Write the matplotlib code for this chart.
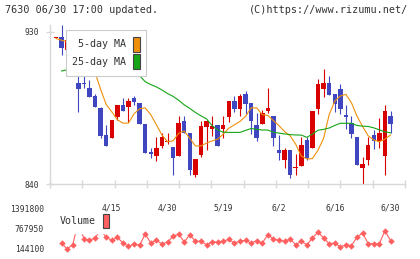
import numpy as np
import matplotlib
matplotlib.use("Agg")
import matplotlib.pyplot as plt
from matplotlib.patches import Patch

plt.rcParams['font.family'] = 'DejaVu Sans Mono'

# daily prices, 61 sessions (red = up, blue = down)
opens = [926.4, 927.0, 919.2, 925.1, 899.9, 899.9, 896.9, 892.0, 884.7, 868.9,
         867.4, 879.8, 886.7, 885.7, 891.0, 887.7, 875.3, 859.1, 856.7, 862.6,
         864.7, 861.9, 856.7, 877.2, 870.3, 845.3, 857.1, 873.9, 872.5, 874.9,
         872.5, 879.8, 889.0, 884.3, 893.2, 887.7, 874.9, 875.5, 883.3, 880.2,
         860.1, 854.2, 860.1, 849.5, 850.8, 866.0, 861.4, 884.3, 896.1, 899.5,
         893.2, 896.1, 880.8, 875.9, 867.8, 849.6, 854.2, 868.9, 865.4, 856.7,
         880.2]
highs = [927.0, 934.0, 925.1, 930.0, 903.8, 904.0, 901.5, 893.2, 885.7, 874.9,
         877.8, 886.7, 891.0, 891.0, 892.2, 887.7, 875.3, 861.4, 867.8, 870.0,
         870.0, 861.9, 880.4, 880.4, 870.3, 854.8, 877.2, 877.8, 880.4, 874.9,
         880.4, 889.0, 892.0, 893.2, 895.0, 887.7, 881.8, 883.7, 896.7, 880.2,
         868.9, 861.4, 860.1, 857.7, 867.8, 867.9, 883.1, 902.0, 908.0, 903.8,
         893.2, 899.1, 886.7, 880.2, 867.8, 856.0, 867.8, 871.9, 878.8, 886.7,
         883.1]
lows = [926.4, 916.2, 918.2, 924.1, 882.7, 896.5, 891.6, 885.7, 867.0, 862.6,
        867.4, 877.8, 883.3, 876.8, 886.7, 875.5, 858.5, 855.5, 853.6, 861.4,
        863.4, 845.3, 856.7, 870.0, 845.3, 844.1, 855.8, 860.1, 868.5, 862.6,
        867.4, 876.8, 882.7, 880.4, 881.2, 869.7, 865.4, 875.5, 881.8, 862.6,
        854.2, 849.6, 843.7, 845.3, 850.8, 854.2, 861.4, 881.4, 891.6, 892.6,
        882.4, 881.2, 872.5, 867.4, 851.2, 839.5, 851.2, 860.7, 861.4, 845.3,
        870.3]
closes = [927.0, 920.5, 925.1, 929.6, 896.0, 898.9, 891.6, 885.7, 868.5, 862.6,
          877.8, 886.7, 883.3, 889.0, 888.6, 875.5, 858.5, 857.5, 861.4, 867.8,
          865.3, 855.5, 875.9, 870.0, 848.3, 854.8, 874.3, 877.2, 874.4, 862.6,
          874.9, 889.0, 884.3, 892.0, 887.3, 877.2, 867.4, 881.8, 884.9, 867.0,
          858.5, 860.1, 845.3, 850.1, 863.0, 855.2, 883.1, 899.1, 899.5, 892.6,
          887.3, 884.3, 879.8, 869.5, 851.2, 851.8, 863.0, 865.4, 870.0, 883.1,
          875.5]

# moving averages
ma5 = [926.0, 925.0, 924.0, 925.0, 920.0, 915.0, 911.0, 906.0, 896.0, 887.0,
       882.7, 878.0, 876.0, 876.0, 881.5, 884.5, 885.0, 881.0, 875.0, 869.0,
       865.0, 865.5, 870.0, 871.3, 867.0, 862.5, 862.5, 864.2, 865.5, 866.5,
       869.5, 873.0, 875.0, 877.0, 880.0, 885.0, 885.0, 881.0, 880.5, 877.5,
       874.5, 871.0, 868.5, 863.5, 856.5, 854.8, 855.0, 860.0, 867.0, 881.0,
       889.0, 892.0, 893.0, 888.0, 880.0, 874.0, 868.5, 866.0, 865.0, 866.5,
       869.0]
ma25 = [np.nan, 906.8, 907.5, 908.5, 909.0, 909.5, 910.0, 910.0, 909.5, 909.0,
        908.5, 908.0, 907.5, 906.5, 905.5, 904.0, 900.5, 898.8, 897.4, 895.6,
        893.5, 891.8, 889.5, 886.8, 884.7, 882.3, 880.3, 878.5, 874.5, 872.0,
        870.6, 870.5, 870.5, 870.5, 871.7, 872.8, 872.3, 871.9, 871.9, 870.6,
        870.1, 869.6, 869.2, 869.0, 868.9, 867.6, 869.5, 871.8, 872.3, 873.1,
        874.6, 875.9, 875.9, 875.9, 874.6, 874.2, 874.0, 873.2, 872.0, 870.8,
        870.3]

# volume from the 2nd session on
volume = [331000, 145000, 278000, 986000, 465000, 415000, 487000, 737000, 509000, 415000,
          509000, 331000, 228000, 300000, 260000, 612000, 331000, 415000, 300000, 362000,
          540000, 612000, 362000, 590000, 384000, 384000, 278000, 362000, 362000, 384000,
          447000, 331000, 384000, 415000, 331000, 403000, 331000, 590000, 456000, 415000,
          384000, 456000, 278000, 384000, 278000, 487000, 674000, 487000, 309000, 331000,
          206000, 278000, 247000, 518000, 643000, 309000, 309000, 309000, 715000, 403000]

date_idx = [10, 20, 30, 40, 50, 60]
date_labels = ['4/15', '4/30', '5/19', '6/2', '6/16', '6/30']
price_ticks = [840, 930]
vol_ticks = [144100, 767950, 1391800]

UP = '#d90000'
DOWN = '#4046c0'
GRID = '#d8d8d8'
TXT = '#333333'

W, H = 420, 259
fig = plt.figure(figsize=(W / 100, H / 100), dpi=100)
vax = fig.add_axes([50 / W, 1 / H, 355 / W, 58 / H])
ax = fig.add_axes([50 / W, (H - 184) / H, 355 / W, 159 / H])
vax.patch.set_visible(False)
ax.patch.set_visible(False)

x = np.arange(len(closes))
o = np.array(opens)
c = np.array(closes)
col = [UP if cc >= oo else DOWN for oo, cc in zip(o, c)]

ax.vlines(x, lows, highs, colors=col, lw=0.8, zorder=2)
ax.bar(x, np.abs(c - o), bottom=np.minimum(o, c), width=0.8, color=col, lw=0, zorder=3)
ax.plot(x, ma5, color='#f0900a', lw=0.8, zorder=4)
ax.plot(x, ma25, color='#16a516', lw=0.8, zorder=4)

xlim = (-1.076, 62.6)
ax.set_xlim(*xlim)
ax.set_ylim(840, 934)
for s in ['top', 'right']:
    ax.spines[s].set_visible(False)
for s in ['left', 'bottom']:
    ax.spines[s].set_color(GRID)
    ax.spines[s].set_linewidth(1.0)
ax.set_xticks(np.linspace(xlim[0], xlim[1], 12))
ax.set_xticklabels([])
ax.set_xticks(date_idx, labels=date_labels, minor=True)
ax.tick_params(axis='x', which='major', direction='inout', length=5.8, color=GRID, width=1.0)
ax.tick_params(axis='x', which='minor', length=0, pad=14.0, labelsize=5.8, labelcolor=TXT)
ax.set_yticks(price_ticks)
ax.tick_params(axis='y', direction='inout', length=5.8, color=GRID, width=1.0,
               pad=4.7, labelsize=5.8, labelcolor=TXT)

handles = [Patch(facecolor='#f0900a', edgecolor='#444444', lw=0.8, label='5-day MA'),
           Patch(facecolor='#16a516', edgecolor='#444444', lw=0.8, label='25-day MA')]
leg = ax.legend(handles=handles, loc='upper left', bbox_to_anchor=(15.7 / 355, 154 / 159),
                borderaxespad=0, markerfirst=False, fontsize=7.2, handlelength=0.67,
                handleheight=1.95, handletextpad=0.7, labelspacing=0.25, borderpad=0.65,
                fancybox=False, framealpha=1, edgecolor='#cccccc', labelcolor=TXT)
leg.get_frame().set_linewidth(0.8)
leg.set_zorder(10)

vax.plot(x[1:], volume, color='#ff5f5f', lw=0.8, marker='D', ms=3.3, mew=0, zorder=2)
vax.set_xlim(*xlim)
vax.set_ylim(144100 - 9 * 31192, 144100 + 49 * 31192)
for s in vax.spines.values():
    s.set_visible(False)
vax.set_xticks([])
vax.set_yticks(vol_ticks, labels=[str(v) for v in vol_ticks])
vax.tick_params(axis='y', length=0, pad=4.3, labelsize=5.8, labelcolor=TXT)
vleg = vax.legend(handles=[Patch(facecolor='#ff6060', edgecolor='#444444', lw=0.8, label='Volume')],
                  loc='upper left', bbox_to_anchor=(4 / 355, 50 / 58), borderaxespad=0,
                  markerfirst=False, fontsize=7.2, handlelength=0.67, handleheight=1.84,
                  handletextpad=0.7, borderpad=0.55, fancybox=False, framealpha=1,
                  edgecolor='white', labelcolor=TXT)
vleg.set_zorder(10)

fig.text(5 / W, 1 - 10 / H, '7630 06/30 17:00 updated.', fontsize=7.3, color=TXT,
         ha='left', va='center')
fig.text(408 / W, 1 - 10 / H, '(C)https://www.rizumu.net/', fontsize=7.3, color=TXT,
         ha='right', va='center')

fig.savefig('out.png', dpi=100, facecolor='white')
